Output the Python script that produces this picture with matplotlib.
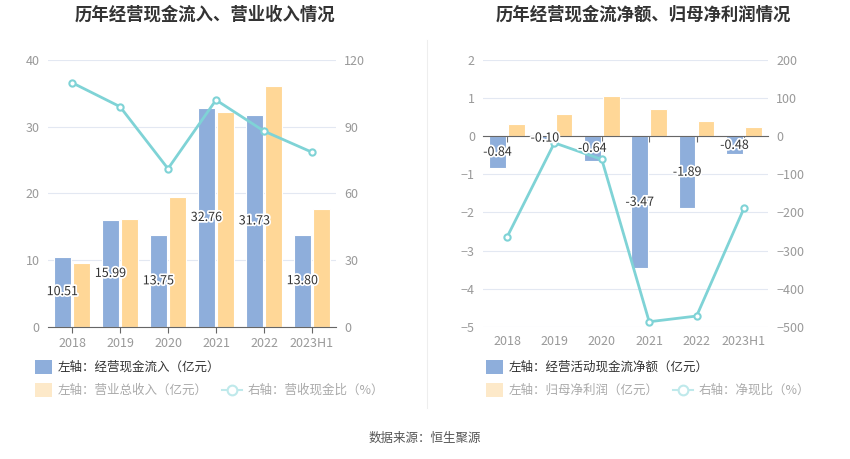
import matplotlib
matplotlib.use("Agg")
import matplotlib.pyplot as plt
import matplotlib.patheffects as pe
from matplotlib.patches import Rectangle
from matplotlib.lines import Line2D
import numpy as np

plt.rcParams['font.family'] = ['Noto Sans CJK SC', 'DejaVu Sans']

years = ['2018', '2019', '2020', '2021', '2022', '2023H1']

# left chart
cash_in = [10.51, 15.99, 13.75, 32.76, 31.73, 13.80]
revenue = [9.6, 16.15, 19.4, 32.15, 36.15, 17.6]
cash_ratio = [109.8, 99.0, 71.1, 102.0, 88.0, 78.5]

# right chart
net_cash = [-0.84, -0.10, -0.64, -3.47, -1.89, -0.48]
net_profit = [0.315, 0.586, 1.06, 0.71, 0.40, 0.245]
net_ratio = [-265, -17.5, -61, -487, -472, -189]

BLUE = '#8eaedb'
ORANGE = '#ffd797'
CYAN = '#7fd3d6'
GRID = '#e3e8f2'
TICK = '#999999'

W, H = 850, 459
fig = plt.figure(figsize=(8.5, 4.59), dpi=100)


def box(x0, x1, y_top, y_bot):
    return [x0 / W, 1 - y_bot / H, (x1 - x0) / W, (y_bot - y_top) / H]


def style(ax, ax2):
    for a in (ax, ax2):
        for s in a.spines.values():
            s.set_visible(False)
        a.tick_params(axis='y', length=0, labelsize=9, labelcolor=TICK, pad=6)
    ax.grid(axis='y', color=GRID, linewidth=0.8)
    ax.set_axisbelow(True)


def bar_labels(ax, x, vals, scale):
    # labels sit in the middle of the blue bars, drawn on the twin axes so they stay on top
    for xi, v in zip(x, vals):
        ax.text(xi - 0.2, v / 2 * scale, f'{v:.2f}', ha='center', va='center',
                fontsize=9, color='#333333', zorder=10,
                path_effects=[pe.withStroke(linewidth=2.5, foreground='white')])


x = np.arange(len(years))
bw = 0.35

# ---------- left chart ----------
ax1 = fig.add_axes(box(48, 336, 60, 326.7))
ax1b = ax1.twinx()
ax1.bar(x - 0.2, cash_in, bw, color=BLUE, edgecolor='white', linewidth=0.8, zorder=2)
ax1.bar(x + 0.2, revenue, bw, color=ORANGE, edgecolor='white', linewidth=0.8, zorder=2)
ax1b.plot(x, cash_ratio, color=CYAN, lw=2, marker='o', ms=4.5, mfc='white',
          mec=CYAN, mew=1.5, zorder=5)
ax1.set_xlim(-0.5, 5.5)
ax1.set_ylim(0, 40)
ax1.set_yticks(range(0, 41, 10))
ax1b.set_ylim(0, 120)
ax1b.set_yticks(range(0, 121, 30))
style(ax1, ax1b)
ax1.spines['bottom'].set_visible(True)
ax1.spines['bottom'].set_color('#666666')
ax1.set_xticks(x, years)
ax1.tick_params(axis='x', length=4, color='#666666', labelsize=9, labelcolor=TICK)
ax1b.set_zorder(ax1.get_zorder() + 1)
bar_labels(ax1b, x, cash_in, 3)

# ---------- right chart ----------
ax2 = fig.add_axes(box(483.3, 767.7, 60, 326.7))
ax2b = ax2.twinx()
ax2.bar(x - 0.2, net_cash, bw, color=BLUE, edgecolor='white', linewidth=0.8, zorder=2)
ax2.bar(x + 0.2, net_profit, bw, color=ORANGE, edgecolor='white', linewidth=0.8, zorder=2)
ax2b.plot(x, net_ratio, color=CYAN, lw=2, marker='o', ms=4.5, mfc='white',
          mec=CYAN, mew=1.5, zorder=5)
ax2.set_xlim(-0.5, 5.5)
ax2.set_ylim(-5, 2)
ax2.set_yticks(range(-5, 3))
ax2b.set_ylim(-500, 200)
ax2b.set_yticks(range(-500, 201, 100))
style(ax2, ax2b)
ax2.spines['bottom'].set_visible(True)
ax2.spines['bottom'].set_position(('data', 0))
ax2.spines['bottom'].set_color('#666666')
ax2.set_xticks(x)
ax2.tick_params(axis='x', length=4, color='#666666', labelbottom=False)
sec = ax2.secondary_xaxis('bottom')
sec.set_xticks(x, years)
sec.tick_params(axis='x', length=0, labelsize=9, labelcolor=TICK, pad=6)
sec.spines['bottom'].set_visible(False)
ax2b.set_zorder(ax2.get_zorder() + 1)
bar_labels(ax2b, x, net_cash, 100)

# ---------- titles, legends, divider ----------
fig.text(205 / W, 1 - 15 / H, '历年经营现金流入、营业收入情况', ha='center', va='center',
         fontsize=12.5, fontweight='bold', color='#333333')
fig.text(643 / W, 1 - 15 / H, '历年经营现金流净额、归母净利润情况', ha='center', va='center',
         fontsize=12.5, fontweight='bold', color='#333333')
fig.add_artist(Line2D([427 / W, 427 / W], [1 - 40 / H, 1 - 408 / H], color='#eeeeee', lw=0.8))


def legend_patch(px, py, color):
    fig.add_artist(Rectangle((px / W, 1 - (py + 7) / H), 17 / W, 14 / H,
                             transform=fig.transFigure, facecolor=color,
                             edgecolor='none'))


def legend_line(px, py):
    fig.add_artist(Line2D([px / W, (px + 20) / W], [1 - py / H, 1 - py / H],
                          color='#bfe9eb', lw=1.5))
    fig.add_artist(Line2D([(px + 10) / W], [1 - py / H], color='#bfe9eb',
                          marker='o', ms=7, mfc='white', mec='#bfe9eb', mew=1.5))


def legend_text(px, py, s, color):
    fig.text(px / W, 1 - py / H, s, ha='left', va='center', fontsize=9, color=color)


legend_patch(35, 367, BLUE)
legend_text(58, 367, '左轴：经营现金流入（亿元）', '#333333')
legend_patch(35, 390, '#fde9c9')
legend_text(58, 390, '左轴：营业总收入（亿元）', '#aaaaaa')
legend_line(222, 390)
legend_text(248, 390, '右轴：营收现金比（%）', '#aaaaaa')

legend_patch(486, 367, BLUE)
legend_text(509, 367, '左轴：经营活动现金流净额（亿元）', '#333333')
legend_patch(486, 390, '#fde9c9')
legend_text(509, 390, '左轴：归母净利润（亿元）', '#aaaaaa')
legend_line(673, 390)
legend_text(699, 390, '右轴：净现比（%）', '#aaaaaa')

fig.text(425 / W, 1 - 438 / H, '数据来源：恒生聚源', ha='center', va='center',
         fontsize=9, color='#555555')

fig.savefig('out.png', dpi=100)
